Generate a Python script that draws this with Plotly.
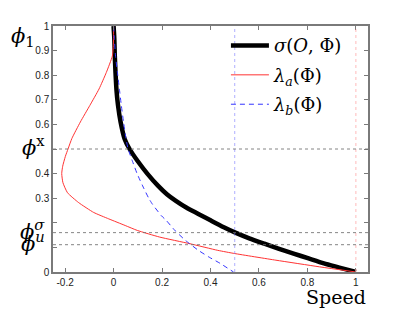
import plotly.graph_objects as go

# phi_1 values (vertical) and speeds (horizontal)
sigma_phi = [1.0, 0.95, 0.88, 0.81, 0.74, 0.68, 0.61, 0.54, 0.50, 0.45, 0.40, 0.35, 0.316, 0.289, 0.262, 0.236, 0.209, 0.182, 0.159, 0.137, 0.115, 0.095, 0.075, 0.055, 0.035, 0.018, 0.0]
sigma_speed = [0.0, 0.003, 0.005, 0.008, 0.012, 0.018, 0.029, 0.046, 0.066, 0.1, 0.139, 0.184, 0.22, 0.257, 0.3, 0.35, 0.402, 0.455, 0.505, 0.56, 0.622, 0.68, 0.743, 0.805, 0.868, 0.932, 1.0]

la_phi = [1.0, 0.95, 0.92, 0.878, 0.811, 0.744, 0.677, 0.61, 0.543, 0.50, 0.47, 0.43, 0.40, 0.363, 0.322, 0.282, 0.242, 0.216, 0.189, 0.169, 0.142, 0.115, 0.088, 0.075, 0.048, 0.021, 0.0]
la_speed = [0.0, 0.0, -0.001, -0.005, -0.03, -0.06, -0.098, -0.137, -0.172, -0.188, -0.199, -0.21, -0.214, -0.209, -0.19, -0.144, -0.082, -0.02, 0.048, 0.098, 0.19, 0.315, 0.43, 0.5, 0.67, 0.85, 1.0]

lb_phi = [1.0, 0.95, 0.878, 0.811, 0.744, 0.677, 0.61, 0.543, 0.50, 0.45, 0.40, 0.35, 0.30, 0.276, 0.229, 0.209, 0.169, 0.128, 0.115, 0.088, 0.06, 0.035, 0.0]
lb_speed = [0.0, 0.003, 0.008, 0.016, 0.024, 0.032, 0.041, 0.051, 0.06, 0.078, 0.097, 0.12, 0.145, 0.16, 0.197, 0.218, 0.253, 0.297, 0.314, 0.35, 0.395, 0.44, 0.495]

phi_marks = [0.5, 0.16, 0.111]
phi_labels = ["<i>ϕ</i><sup>x</sup>", "<i>ϕ</i><sup><i>σ</i></sup>", "<i>ϕ</i><sup><i>u</i></sup>"]
speed_marks = [0.5, 1.0]
speed_mark_colors = ["rgba(110,110,255,0.55)", "rgba(255,120,120,0.5)"]

x_ticks = [-0.2, 0, 0.2, 0.4, 0.6, 0.8, 1]
x_ticktext = ["-0.2", "0", "0.2", "0.4", "0.6", "0.8", "1"]
y_ticks = [0, 0.1, 0.2, 0.3, 0.4, 0.5, 0.6, 0.7, 0.8, 0.9, 1]
y_ticktext = ["0", "", "", "0.3", "0.4", "", "0.6", "0.7", "0.8", "0.9", "1"]

serif = "DejaVu Serif"
fig = go.Figure()

for xv, c in zip(speed_marks, speed_mark_colors):
    fig.add_vline(x=xv, line=dict(color=c, width=1, dash="dot"))
for yv in phi_marks:
    fig.add_hline(y=yv, line=dict(color="rgba(110,110,110,0.85)", width=1, dash="dot"))

fig.add_trace(go.Scatter(x=sigma_speed, y=sigma_phi, mode="lines", line=dict(color="black", width=4.5, shape="spline", smoothing=0.7),
                         name="<i>σ</i>(<i>O</i>, Φ)", legendgroup="s"))
fig.add_trace(go.Scatter(x=la_speed, y=la_phi, mode="lines", line=dict(color="#ff3333", width=1, shape="spline", smoothing=0.5),
                         name="<i>λ<sub>a</sub></i>(Φ)", legendgroup="a"))
fig.add_trace(go.Scatter(x=lb_speed, y=lb_phi, mode="lines", line=dict(color="#3333ff", width=1, dash="5px,4px", shape="spline", smoothing=0.5),
                         name="<i>λ<sub>b</sub></i>(Φ)", legendgroup="b"))

for yv, t in zip(phi_marks, phi_labels):
    fig.add_annotation(x=0, xref="paper", xanchor="right", xshift=-6, y=yv, yref="y", yanchor="middle", yshift=3,
                       text=t, showarrow=False, font=dict(family=serif, size=21, color="black"))
fig.add_annotation(x=-0.14, xref="paper", xanchor="left", y=1.0, yref="paper", yanchor="middle", yshift=-11,
                   text="<i>ϕ</i><sub>1</sub>", showarrow=False, font=dict(family=serif, size=21, color="black"))
fig.add_annotation(x=1.0, xref="paper", xanchor="right", y=0, yref="paper", yanchor="middle", yshift=-25,
                   text="Speed", showarrow=False, font=dict(family=serif, size=19, color="black"))

axis_common = dict(showgrid=False, zeroline=False, showline=True, linecolor="#7a7a7a", linewidth=1.5,
                   mirror="ticks", ticks="inside", ticklen=4, tickcolor="#7a7a7a",
                   tickfont=dict(family="Liberation Sans", size=10, color="#222"))
fig.update_xaxes(range=[-0.25, 1.05], tickvals=x_ticks, ticktext=x_ticktext, **axis_common)
fig.update_yaxes(range=[0, 1], tickvals=y_ticks, ticktext=y_ticktext, **axis_common)

fig.update_layout(width=407, height=309, margin=dict(l=45, r=47, t=15, b=45),
                  plot_bgcolor="white", paper_bgcolor="white",
                  legend=dict(x=0.549, y=0.995, xanchor="left", yanchor="top", bgcolor="rgba(0,0,0,0)",
                              font=dict(family=serif, size=18, color="black"), itemwidth=38,
                              traceorder="grouped", tracegroupgap=3))
fig.write_html("out.html")
